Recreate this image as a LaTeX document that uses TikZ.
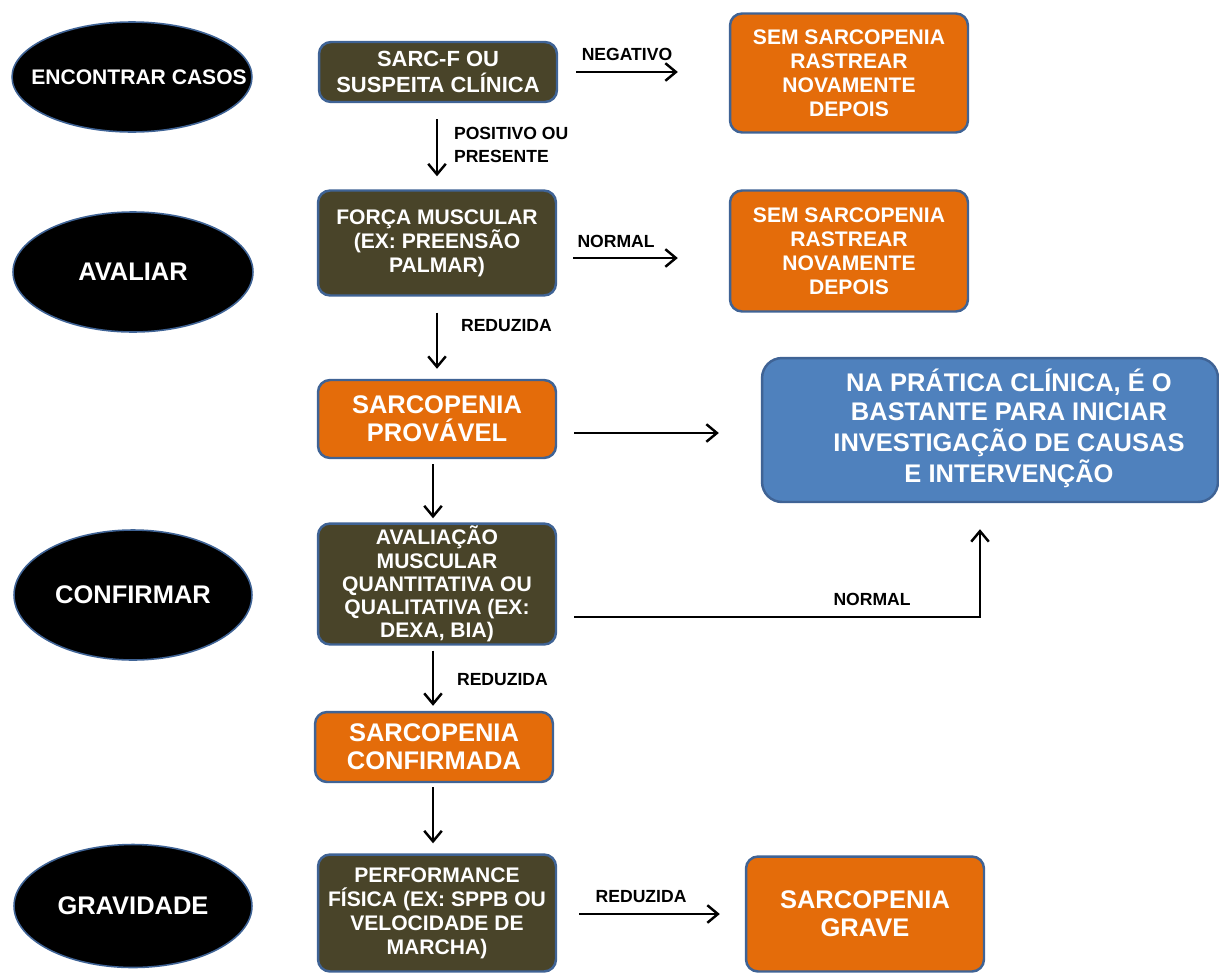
\documentclass[tikz,border=0pt]{standalone}
\usepackage{fontspec}
\setmainfont{Liberation Sans}
\usetikzlibrary{arrows.meta,shapes.geometric,calc}
\definecolor{oliva}{HTML}{494429}
\definecolor{laranja}{HTML}{E46C0A}
\definecolor{azul}{HTML}{4F81BD}
\definecolor{borda}{HTML}{3F6395}

\begin{document}
\begin{tikzpicture}[x=0.02cm, y=0.02cm,
    etapa/.style={ellipse, draw=borda, line width=0.9pt, fill=black, text=white,
	inner sep=0pt, minimum width=4.8cm},
    caixa/.style={rectangle, rounded corners=0.24cm, draw=borda, line width=1.4pt,
	text=white, align=center, inner sep=0pt, minimum width=4.76cm},
    escura/.style={caixa, fill=oliva},
    alerta/.style={caixa, fill=laranja},
    seta/.style={-{Straight Barb[length=6pt,width=10pt]}, line width=1.4pt},
    rotulo/.style={font=\fontsize{10}{13}\selectfont\bfseries, inner sep=0pt}]
    \useasboundingbox (0, 0) rectangle (1219, -974);
    % etapas
    \node[etapa, minimum height=2.2cm,
	font=\fontsize{12}{14}\selectfont\bfseries] (encontrar) at (132, -77)
	{\makebox[0pt]{\hspace{8pt}ENCONTRAR CASOS}};
    \node[etapa, minimum height=2.4cm,
	font=\fontsize{14.5}{16}\selectfont\bfseries] (avaliar) at (133, -272) {AVALIAR};
    \node[etapa, minimum height=2.6cm, minimum width=4.76cm,
	font=\fontsize{14.5}{16}\selectfont\bfseries] (confirmar) at (133, -595) {CONFIRMAR};
    \node[etapa, minimum height=2.46cm, minimum width=4.76cm,
	font=\fontsize{14.5}{16}\selectfont\bfseries] (gravidade) at (133, -906) {GRAVIDADE};
    % coluna central
    \node[escura, minimum height=1.2cm,
	font=\fontsize{12.5}{14.8}\selectfont\bfseries] (sarcf) at (438, -72)
	{SARC-F OU\\SUSPEITA CLÍNICA};
    \node[escura, minimum height=2.1cm,
	font=\fontsize{12}{13.7}\selectfont\bfseries] (forca) at (437, -243)
	{FORÇA MUSCULAR\\(EX: PREENSÃO\\PALMAR)};
    \node[alerta, minimum height=1.56cm,
	font=\fontsize{14.5}{16}\selectfont\bfseries] (provavel) at (437, -419)
	{SARCOPENIA\\PROVÁVEL};
    \node[escura, minimum height=2.42cm,
	font=\fontsize{12}{13.2}\selectfont\bfseries] (avaliacao) at (437, -584)
	{AVALIAÇÃO\\MUSCULAR\\QUANTITATIVA OU\\QUALITATIVA (EX:\\DEXA, BIA)};
    \node[alerta, minimum height=1.4cm,
	font=\fontsize{14.5}{16}\selectfont\bfseries] (confirmada) at (434, -747)
	{SARCOPENIA\\CONFIRMADA};
    \node[escura, minimum height=2.34cm,
	font=\fontsize{12}{13.7}\selectfont\bfseries] (performance) at (437, -913)
	{PERFORMANCE\\FÍSICA (EX: SPPB OU\\VELOCIDADE DE\\MARCHA)};
    % coluna direita
    \node[alerta, minimum height=2.38cm,
	font=\fontsize{12}{13.7}\selectfont\bfseries] (semA) at (849, -73)
	{SEM SARCOPENIA\\RASTREAR\\NOVAMENTE\\DEPOIS};
    \node[alerta, minimum height=2.42cm,
	font=\fontsize{12}{13.7}\selectfont\bfseries] (semB) at (849, -251)
	{SEM SARCOPENIA\\RASTREAR\\NOVAMENTE\\DEPOIS};
    \node[caixa, fill=azul, rounded corners=0.4cm, minimum width=9.12cm,
	minimum height=2.88cm, font=\fontsize{14.5}{16}\selectfont\bfseries] (pratica)
	at (990, -430)
	{\hspace*{0.76cm}\begin{tabular}{@{}c@{}}NA PRÁTICA CLÍNICA, É O\\BASTANTE PARA INICIAR\\
	INVESTIGAÇÃO DE CAUSAS\\E INTERVENÇÃO\end{tabular}};
    \node[alerta, minimum height=2.3cm,
	font=\fontsize{14.5}{16}\selectfont\bfseries] (grave) at (865, -914)
	{SARCOPENIA\\GRAVE};
    % setas
    \draw[seta] ($(sarcf.east) + (18, 0)$) -- ($(sarcf.east -| semA.west) + (-51, 0)$)
	node[rotulo, midway, above=6pt] {NEGATIVO};
    \draw[seta] ($(sarcf.south -| forca.north) + (0, -16)$) -- ($(forca.north) + (0, 13)$)
	node[rotulo, pos=0.45, right=9pt, align=left] {POSITIVO OU\\PRESENTE};
    \draw[seta] ($(forca.east) + (16, -15)$) -- ($(forca.east -| semB.west) + (-51, -15)$)
	node[rotulo, pos=0.41, above=5pt] {NORMAL};
    \draw[seta] ($(forca.south) + (0, -16)$) -- ($(provavel.north) + (0, 10)$)
	node[rotulo, pos=0.22, right=13pt] {REDUZIDA};
    \draw[seta] ($(provavel.east) + (17, -14)$) -- ($(provavel.east -| pratica.west) + (-42, -14)$);
    \draw[seta] ($(provavel.south) + (-4, -5)$) -- ($(avaliacao.north) + (-4, 4)$);
    \draw[seta] ($(avaliacao.east) + (17, -33)$) -| ($(pratica.south) + (-10, -26)$)
	node[rotulo, pos=0.367, above=6pt] {NORMAL};
    \draw[seta] ($(avaliacao.south) + (-4, -5)$) -- ($(confirmada.north) + (-1, 5)$)
	node[rotulo, pos=0.53, right=13pt] {REDUZIDA};
    \draw[seta] ($(confirmada.south) + (-1, -4)$) -- ($(performance.north) + (-4, 10)$);
    \draw[seta] ($(performance.east) + (22, -1)$) -- ($(performance.east -| grave.west) + (-25, -1)$)
	node[rotulo, pos=0.44, above=5.5pt] {REDUZIDA};
\end{tikzpicture}
\end{document}
